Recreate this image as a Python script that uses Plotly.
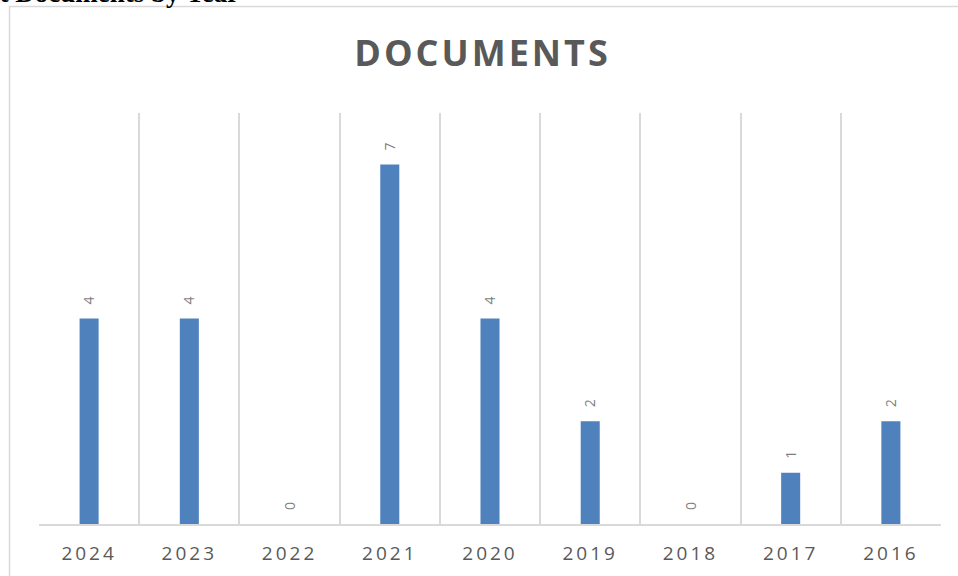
import plotly.graph_objects as go

years = ["2024", "2023", "2022", "2021", "2020", "2019", "2018", "2017", "2016"]
documents = [4, 4, 0, 7, 4, 2, 0, 1, 2]
chart_title = "DOCUMENTS"
header_text = "Project Documents by Year"

W, H = 958, 576
L, R, T, B = 39, 17, 113, 52
pw, ph = W - L - R, H - T - B

def px_x(p):
    return (p - L) / pw

def px_y(p):
    return 1 + (T - p) / ph

tick_text = ['<span style="letter-spacing:3px">%s</span>' % y for y in years]
labels = ["\u00a0\u00a0\u00a0" + str(v) for v in documents]

fig = go.Figure(
    go.Bar(
        x=years,
        y=documents,
        marker=dict(color="#4f81bd", line=dict(width=0)),
        width=0.19,
        text=labels,
        textposition="outside",
        textangle=-90,
        textfont=dict(family="Open Sans", size=19, color="#7f7f7f"),
        cliponaxis=False,
    )
)

fig.update_layout(
    width=W,
    height=H,
    margin=dict(l=L, r=R, t=T, b=B, autoexpand=False),
    paper_bgcolor="white",
    plot_bgcolor="white",
    showlegend=False,
    title=dict(
        text='<b><span style="letter-spacing:3px">%s</span></b>' % chart_title,
        xref="container",
        yref="container",
        x=482.5 / W,
        xanchor="center",
        y=(H - 53) / H,
        yanchor="middle",
        font=dict(family="Open Sans", size=36, color="#595959"),
    ),
    xaxis=dict(
        type="category",
        tickson="boundaries",
        showgrid=True,
        gridcolor="#d9d9d9",
        gridwidth=1.5,
        showline=True,
        linecolor="#d9d9d9",
        linewidth=1.5,
        ticks="",
        tickvals=years,
        ticktext=tick_text,
        tickfont=dict(family="Open Sans", size=19, color="#595959"),
        ticklabelstandoff=11,
        automargin=False,
    ),
    yaxis=dict(
        range=[0, 8],
        showgrid=False,
        zeroline=False,
        showline=False,
        showticklabels=False,
        ticks="",
        automargin=False,
    ),
    shapes=[
        dict(
            type="rect",
            xref="paper",
            yref="paper",
            x0=px_x(9.5),
            x1=px_x(1000),
            y0=px_y(620),
            y1=px_y(6.5),
            line=dict(color="#d9d9d9", width=1.5),
            fillcolor="rgba(0,0,0,0)",
            layer="below",
        )
    ],
    annotations=[
        dict(
            text="<b>%s</b>" % header_text,
            xref="paper",
            yref="paper",
            x=px_x(241),
            y=px_y(10),
            xanchor="right",
            yanchor="bottom",
            showarrow=False,
            font=dict(family="Liberation Serif", size=27, color="#000000"),
        )
    ],
)

fig.write_html(
    "out.html",
    config={"displayModeBar": False},
    post_script="document.body.style.margin='0';document.body.style.overflow='hidden';",
)
